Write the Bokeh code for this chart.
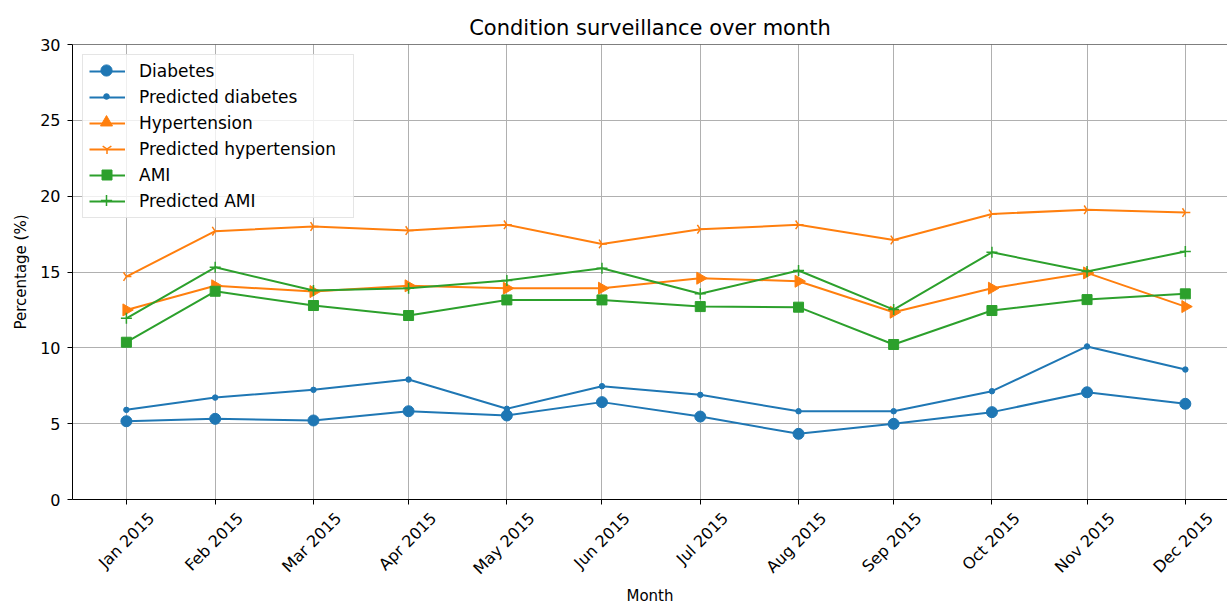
import math
import pandas as pd
from bokeh.plotting import figure
from bokeh.models import (Range1d, FixedTicker, CustomJSTickFormatter, Legend,
                          LegendItem, Span, DatetimeAxis, DatetimeTickFormatter)
from bokeh.embed import file_html
from bokeh.resources import INLINE

# ---- data ----
dates = ["2015-01-31", "2015-02-28", "2015-03-31", "2015-04-30", "2015-05-31",
         "2015-06-30", "2015-07-31", "2015-08-31", "2015-09-30", "2015-10-31",
         "2015-11-30", "2015-12-31"]
month_labels = ["Jan 2015", "Feb 2015", "Mar 2015", "Apr 2015", "May 2015", "Jun 2015",
                "Jul 2015", "Aug 2015", "Sep 2015", "Oct 2015", "Nov 2015", "Dec 2015"]
diabetes = [5.16, 5.32, 5.21, 5.82, 5.54, 6.42, 5.47, 4.33, 4.99, 5.76, 7.07, 6.31]
pred_diabetes = [5.91, 6.72, 7.23, 7.91, 5.98, 7.47, 6.90, 5.82, 5.82, 7.14, 10.09, 8.57]
hypertension = [12.50, 14.09, 13.71, 14.09, 13.93, 13.93, 14.59, 14.39, 12.35, 13.93, 14.94, 12.72]
pred_hypertension = [14.70, 17.69, 18.00, 17.73, 18.11, 16.85, 17.82, 18.11, 17.11, 18.83, 19.10, 18.92]
ami = [10.37, 13.73, 12.79, 12.13, 13.16, 13.16, 12.72, 12.68, 10.22, 12.46, 13.18, 13.56]
pred_ami = [11.95, 15.31, 13.78, 13.93, 14.44, 15.25, 13.56, 15.10, 12.52, 16.30, 15.03, 16.35]
y_ticks = [0, 5, 10, 15, 20, 25, 30]

x = pd.to_datetime(dates)
FONT = "DejaVu Sans"
BLUE, ORANGE, GREEN = "#1f77b4", "#ff7f0e", "#2ca02c"

FRAME_H = 455
x_start = x[0] - pd.Timedelta(days=17.0)
x_end = x[-1] + pd.Timedelta(days=13.3)
p = figure(width=1227, height=607, x_axis_type="datetime",
           output_backend="svg", toolbar_location=None,
           x_range=Range1d(start=x_start, end=x_end),
           y_range=Range1d(y_ticks[0], y_ticks[-1]),
           min_border_left=72, min_border_right=0,
           min_border_top=44, min_border_bottom=108,
           title="Condition surveillance over month")

p.background_fill_color = "white"
p.border_fill_color = "white"
p.outline_line_color = None

p.title.text_font = FONT
p.title.text_font_size = "21px"
p.title.text_font_style = "normal"
p.title.align = "center"
p.title.offset = 5
p.title.text_color = "black"

# axes
ticks_ms = [int(t.value // 10**6) for t in x]
p.xaxis.ticker = FixedTicker(ticks=ticks_ms)
p.xaxis.formatter = CustomJSTickFormatter(code="return ''")
p.yaxis.ticker = FixedTicker(ticks=y_ticks)

for ax in (p.xaxis, p.yaxis):
    ax.axis_line_color = "black"
    ax.axis_line_width = 1
    ax.major_tick_line_color = "black"
    ax.major_tick_out = 5
    ax.major_tick_in = 0
    ax.minor_tick_line_color = None
    ax.major_label_text_font = FONT
    ax.major_label_text_font_size = "16px"
    ax.major_label_text_color = "black"
    ax.axis_label_text_font = FONT
    ax.axis_label_text_font_size = "15px"
    ax.axis_label_text_font_style = "normal"
    ax.axis_label_text_color = "black"
    ax.major_label_standoff = 7

p.xaxis.major_label_standoff = 0
p.yaxis.axis_label = "Percentage (%)"
p.yaxis.axis_label_standoff = 7

# second (label-only) axis on a slightly shifted range so that the rotated
# month labels sit centred under their ticks, as in the reference
shift = pd.Timedelta(days=7.9)
p.extra_x_ranges = {"lbl": Range1d(start=x_start - shift, end=x_end - shift)}
fmt = "%b %Y"
lab_axis = DatetimeAxis(
    x_range_name="lbl", ticker=FixedTicker(ticks=ticks_ms),
    formatter=DatetimeTickFormatter(milliseconds=fmt, seconds=fmt, minsec=fmt,
                                    minutes=fmt, hourmin=fmt, hours=fmt,
                                    days=fmt, months=fmt, years=fmt),
    major_label_orientation=math.pi / 4,
    axis_line_color=None, major_tick_line_color=None, minor_tick_line_color=None,
    major_tick_out=0, major_tick_in=0, major_label_standoff=11,
    major_label_text_font=FONT, major_label_text_font_size="16px",
    major_label_text_color="black",
    axis_label="Month", axis_label_text_font=FONT, axis_label_text_font_size="15px",
    axis_label_text_font_style="normal", axis_label_text_color="black",
    axis_label_standoff=-1)
p.add_layout(lab_axis, "below")

p.grid.grid_line_color = "#b0b0b0"
p.grid.grid_line_width = 1

p.add_layout(Span(location=y_ticks[-1], dimension="width", line_color="black", line_width=1))

LW = 2
main_items = []
marker_legends = []

def series(label, vals, color, marker, size, angle=0.0, mlw=1.0):
    r1 = p.line(x, vals, line_color=color, line_width=LW)
    r2 = p.scatter(x, vals, marker=marker, size=size, angle=angle,
                   line_color=color, fill_color=color, line_width=mlw)
    main_items.append(LegendItem(label=label, renderers=[r1]))
    marker_legends.append((r2, size))

series("Diabetes", diabetes, BLUE, "circle", 11)
series("Predicted diabetes", pred_diabetes, BLUE, "circle", 5.5)
series("Hypertension", hypertension, ORANGE, "triangle", 12, angle=-math.pi / 2)
series("Predicted hypertension", pred_hypertension, ORANGE, "y", 10, angle=math.pi / 2, mlw=1.5)
series("AMI", ami, GREEN, "square", 10)
series("Predicted AMI", pred_ami, GREEN, "cross", 11, mlw=1.5)

MARGIN, PAD, GW, ROW, SP = 10, 6, 36, 20, 6
legend = Legend(items=main_items, location="top_left")
legend.margin = MARGIN
legend.padding = PAD
legend.spacing = SP
legend.glyph_width = GW
legend.glyph_height = ROW
legend.label_height = ROW
legend.label_width = 208
legend.label_standoff = 14
legend.label_text_font = FONT
legend.label_text_font_size = "17px"
legend.label_text_color = "black"
legend.border_line_color = "#cccccc"
legend.border_line_width = 1
legend.background_fill_color = "white"
legend.background_fill_alpha = 0.8
p.add_layout(legend)

# marker overlays so every legend entry shows its own marker size
for i, (r, size) in enumerate(marker_legends):
    g = int(round(size / 0.4))
    cx = MARGIN + PAD + GW / 2
    cy = FRAME_H - (MARGIN + PAD + ROW / 2 + i * (ROW + SP))
    lg = Legend(items=[LegendItem(label=" ", renderers=[r])],
                location=(cx - g / 2, cy - g / 2))
    lg.margin = 0
    lg.padding = 0
    lg.glyph_width = g
    lg.glyph_height = g
    lg.label_height = g
    lg.label_width = 1
    lg.label_standoff = 0
    lg.label_text_font_size = "1px"
    lg.border_line_color = None
    lg.background_fill_color = None
    lg.background_fill_alpha = 0
    p.add_layout(lg)

open("out.html", "w").write(file_html(p, INLINE))
